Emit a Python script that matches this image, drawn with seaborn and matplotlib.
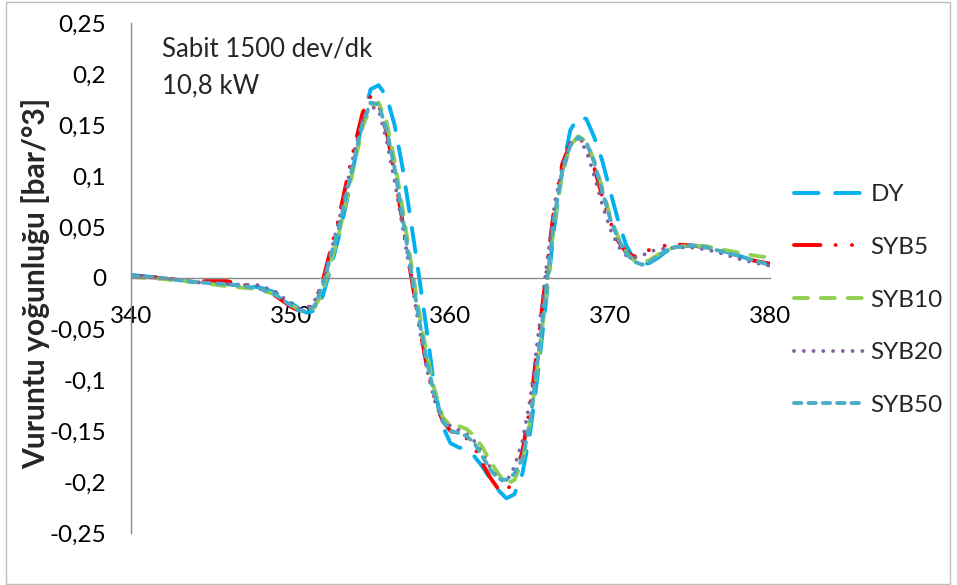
import numpy as np
import pandas as pd
import matplotlib
matplotlib.use("Agg")
import matplotlib.pyplot as plt
import matplotlib.patches as patches
from matplotlib.ticker import FuncFormatter, MultipleLocator
import seaborn as sns

# crank angle [deg]
angle = [340, 342, 344, 346, 348, 349, 350,
         350.5, 351, 351.5, 352, 352.5, 353, 353.5, 354, 354.5, 355,
         355.5, 356, 356.5, 357, 357.5, 358, 358.5, 359, 359.5, 360,
         360.5, 361, 361.5, 362, 362.5, 363, 363.5, 364, 364.5, 365,
         365.5, 366, 366.5, 367, 367.5, 368, 368.5, 369, 369.5, 370,
         370.5, 371, 371.5, 372, 372.5, 373, 373.5, 374,
         375, 376, 377, 378, 379, 380]

dy = [0.003, 0.000, -0.004, -0.006, -0.009, -0.014, -0.024,
      -0.030, -0.034, -0.032, -0.018, 0.010, 0.040, 0.075, 0.115, 0.155, 0.185,
      0.189, 0.178, 0.150, 0.108, 0.058, 0.005, -0.050, -0.108, -0.145, -0.162,
      -0.166, -0.168, -0.175, -0.185, -0.197, -0.208, -0.216, -0.212, -0.192, -0.150,
      -0.090, -0.020, 0.050, 0.105, 0.145, 0.158, 0.156, 0.138, 0.115, 0.085,
      0.056, 0.032, 0.018, 0.013, 0.015, 0.020, 0.026, 0.029,
      0.032, 0.031, 0.027, 0.022, 0.017, 0.013]

syb5 = [0.002, 0.000, -0.003, -0.003, -0.010, -0.017, -0.028,
        -0.032, -0.032, -0.024, -0.003, 0.028, 0.058, 0.095, 0.130, 0.162, 0.178,
        0.170, 0.143, 0.103, 0.055, 0.005, -0.042, -0.085, -0.118, -0.140, -0.150,
        -0.153, -0.157, -0.166, -0.182, -0.196, -0.207, -0.209, -0.197, -0.170, -0.125,
        -0.060, 0.005, 0.070, 0.112, 0.132, 0.138, 0.130, 0.108, 0.080, 0.055,
        0.036, 0.025, 0.021, 0.024, 0.028, 0.030, 0.032, 0.033,
        0.032, 0.030, 0.026, 0.022, 0.017, 0.014]

syb10 = [0.001, -0.001, -0.004, -0.008, -0.011, -0.016, -0.026,
         -0.031, -0.033, -0.029, -0.013, 0.015, 0.042, 0.078, 0.113, 0.148, 0.168,
         0.172, 0.153, 0.115, 0.068, 0.018, -0.030, -0.073, -0.110, -0.136, -0.145,
         -0.145, -0.148, -0.155, -0.166, -0.180, -0.192, -0.202, -0.198, -0.180, -0.140,
         -0.080, -0.015, 0.055, 0.102, 0.130, 0.139, 0.134, 0.115, 0.088, 0.060,
         0.040, 0.025, 0.017, 0.015, 0.018, 0.023, 0.027, 0.030,
         0.032, 0.031, 0.028, 0.025, 0.022, 0.020]

syb20 = [0.002, 0.000, -0.004, -0.006, -0.007, -0.013, -0.025,
         -0.030, -0.030, -0.022, -0.004, 0.025, 0.055, 0.090, 0.125, 0.155, 0.168,
         0.165, 0.135, 0.095, 0.050, 0.003, -0.045, -0.088, -0.120, -0.140, -0.145,
         -0.149, -0.153, -0.160, -0.172, -0.186, -0.197, -0.200, -0.185, -0.160, -0.118,
         -0.055, 0.010, 0.070, 0.110, 0.132, 0.137, 0.125, 0.100, 0.072, 0.048,
         0.031, 0.022, 0.020, 0.022, 0.026, 0.028, 0.029, 0.030,
         0.030, 0.028, 0.024, 0.019, 0.015, 0.012]

syb50 = [0.002, 0.000, -0.004, -0.006, -0.010, -0.016, -0.027,
         -0.032, -0.033, -0.027, -0.008, 0.022, 0.048, 0.083, 0.118, 0.152, 0.172,
         0.170, 0.145, 0.108, 0.060, 0.010, -0.038, -0.080, -0.115, -0.140, -0.150,
         -0.152, -0.155, -0.162, -0.175, -0.188, -0.197, -0.198, -0.192, -0.177, -0.140,
         -0.075, -0.010, 0.060, 0.105, 0.130, 0.138, 0.133, 0.113, 0.085, 0.058,
         0.038, 0.024, 0.016, 0.013, 0.016, 0.022, 0.027, 0.030,
         0.032, 0.030, 0.026, 0.022, 0.017, 0.013]

names = ["DY", "SYB5", "SYB10", "SYB20", "SYB50"]
series = [dy, syb5, syb10, syb20, syb50]

df = pd.DataFrame({
    "angle": np.tile(angle, len(names)),
    "value": np.concatenate(series),
    "series": np.repeat(names, len(angle)),
})

colors = {"DY": "#00B0F0", "SYB5": "#FF0000", "SYB10": "#92D050",
          "SYB20": "#8064A2", "SYB50": "#4BACC6"}
dashes = {"DY": (6.3, 4.3),
          "SYB5": (6.8, 3.9, 0.01, 4.2, 0.01, 3.9),
          "SYB10": (3.6, 3.3),
          "SYB20": (0.01, 2.5),
          "SYB50": (1.9, 1.8)}

sns.set_theme(style="white")
plt.rcParams["font.family"] = ["Lato", "DejaVu Sans"]

fig = plt.figure(figsize=(9.57, 5.85), dpi=100)
ax = fig.add_axes([131 / 957, 1 - 533 / 585, (770 - 131) / 957, (533 - 23) / 585])

sns.lineplot(data=df, x="angle", y="value", hue="series", style="series",
             palette=colors, dashes=dashes, hue_order=names, style_order=names,
             linewidth=2.8, dash_capstyle="round", legend=False, ax=ax)

ax.set_xlim(340, 380)
ax.set_ylim(-0.25, 0.25)
ax.xaxis.set_major_locator(MultipleLocator(10))
ax.yaxis.set_major_locator(MultipleLocator(0.05))
fmt = FuncFormatter(lambda v, p: ("%g" % round(v, 3)).replace(".", ","))
ax.xaxis.set_major_formatter(fmt)
ax.yaxis.set_major_formatter(fmt)

for s in ["top", "right"]:
    ax.spines[s].set_visible(False)
ax.spines["bottom"].set_position(("data", 0))
for s in ["left", "bottom"]:
    ax.spines[s].set_color("#898989")
    ax.spines[s].set_linewidth(1.0)

ax.tick_params(axis="both", direction="out", length=6, width=1,
               color="#898989", labelsize=17.5, labelcolor="black")
ax.tick_params(axis="y", pad=12)
ax.tick_params(axis="x", pad=14)
ax.set_xlabel("")
ax.set_ylabel("")

fig.text(36 / 957, 1 - 283 / 585, "Vuruntu yoğunluğu [bar/°3]", rotation=90,
         ha="center", va="center", fontsize=21.6, fontweight="bold")
fig.text(162 / 957, 1 - 57 / 585, "Sabit 1500 dev/dk", ha="left", va="baseline",
         fontsize=18.5)
fig.text(162 / 957, 1 - 93 / 585, "10,8 kW", ha="left", va="baseline",
         fontsize=18.5)

ax.legend(ax.lines[:5], names, loc="center left",
          bbox_to_anchor=(794 / 957, 1 - 300 / 585), bbox_transform=fig.transFigure,
          frameon=False, fontsize=17.5, handlelength=2.85, handletextpad=0.3,
          labelspacing=1.3, borderpad=0, borderaxespad=0)

fig.patches.append(patches.Rectangle((6 / 957, 1 / 585), 944 / 957, 582 / 585,
                                     transform=fig.transFigure, fill=False,
                                     edgecolor="#bfbfbf", linewidth=1))

fig.savefig("out.png", dpi=100)
